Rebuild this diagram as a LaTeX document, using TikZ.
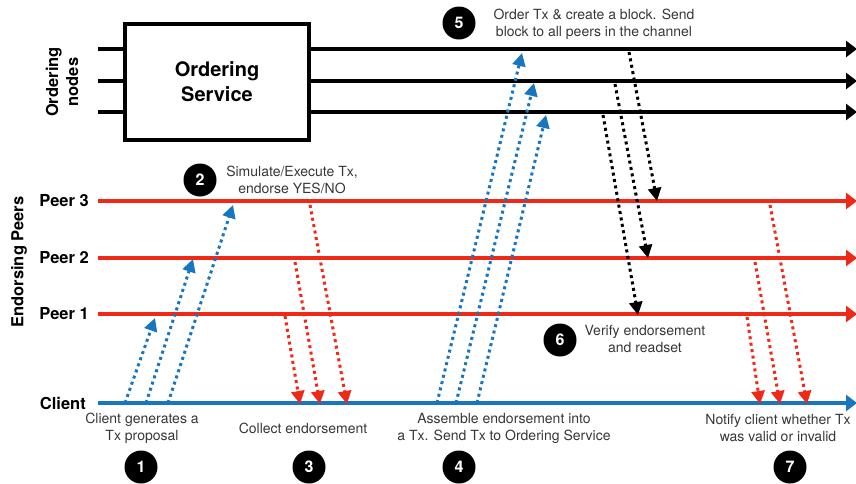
\documentclass[tikz,border=0pt]{standalone}
\usepackage{fontspec}
\setmainfont{TeX Gyre Heros}
\usetikzlibrary{arrows.meta}
\definecolor{cred}{RGB}{240,40,22}
\definecolor{cblue}{RGB}{24,118,190}
\definecolor{ctext}{RGB}{55,55,55}
\tikzset{
  mainline/.style={line width=3.2pt,-{Triangle[length=11pt,width=16pt]}},
  msg/.style={line width=3pt,dash pattern=on 3pt off 3.5pt,-{Triangle[length=13pt,width=13pt]}},
  num/.style={circle,fill=black,minimum size=33pt,inner sep=0pt,text=white,font=\fontsize{16}{16}\selectfont\bfseries},
  note/.style={align=center,text=ctext,font=\fontsize{14}{17}\selectfont,inner sep=0pt},
  lab/.style={font=\fontsize{16.5}{19}\selectfont\bfseries,inner sep=0pt},
}
\begin{document}
\begin{tikzpicture}[x=1pt,y=-1pt]
\useasboundingbox (0,0) rectangle (856,483);
% line endpoints
\foreach \n/\y in {o1/49,o2/81,o3/112,p3/201,p2/258,p1/314,cl/403}{
  \coordinate (\n L) at (98,\y);
  \coordinate (\n R) at (857,\y);
}
% ordering lines
\draw[mainline] (o1L) -- (o1R);
\draw[mainline] (o2L) -- (o2R);
\draw[mainline] (o3L) -- (o3R);
\node[draw,line width=3.2pt,fill=white,minimum width=184pt,minimum height=116pt,align=center,
      font=\fontsize{20}{25}\selectfont\bfseries] (os) at (217,82) {Ordering\\Service};
% peer lines
\draw[mainline,cred] (p3L) -- (p3R);
\draw[mainline,cred] (p2L) -- (p2R);
\draw[mainline,cred] (p1L) -- (p1R);
\draw[mainline,cblue] (clL) -- (clR);
% labels
\node[lab,rotate=90,align=center,font=\fontsize{16.5}{20}\selectfont\bfseries] (ordn) at (62,82) {Ordering\\nodes};
\node[lab,rotate=90] (endp) at (19,262) {Endorsing Peers};
\node[lab,anchor=east] (lp3) at (89,201) {Peer 3};
\node[lab,anchor=east] (lp2) at (89,258) {Peer 2};
\node[lab,anchor=east] (lp1) at (89,314) {Peer 1};
\node[lab,anchor=east] (lcl) at (86,403) {Client};
% step 1: client -> peers
\coordinate (a1s) at (125,403); \coordinate (a1e) at (155,318);
\coordinate (a2s) at (146,403); \coordinate (a2e) at (193,259);
\coordinate (a3s) at (168,403); \coordinate (a3e) at (233,205);
\draw[msg,cblue] (a1s) -- (a1e);
\draw[msg,cblue] (a2s) -- (a2e);
\draw[msg,cblue] (a3s) -- (a3e);
% step 3: peers -> client
\coordinate (b1s) at (285,316); \coordinate (b1e) at (300,404);
\coordinate (b2s) at (295,262); \coordinate (b2e) at (320,404);
\coordinate (b3s) at (310,205); \coordinate (b3e) at (347,404);
\draw[msg,cred] (b1s) -- (b1e);
\draw[msg,cred] (b2s) -- (b2e);
\draw[msg,cred] (b3s) -- (b3e);
% step 4: client -> ordering
\coordinate (c1s) at (437,403); \coordinate (c1e) at (522,53);
\coordinate (c2s) at (456,403); \coordinate (c2e) at (534,83);
\coordinate (c3s) at (477,403); \coordinate (c3e) at (546,115);
\draw[msg,cblue] (c1s) -- (c1e);
\draw[msg,cblue] (c2s) -- (c2e);
\draw[msg,cblue] (c3s) -- (c3e);
% step 5: ordering -> peers
\coordinate (d1s) at (629,52); \coordinate (d1e) at (657,201);
\coordinate (d2s) at (615,84); \coordinate (d2e) at (648,258);
\coordinate (d3s) at (603,115); \coordinate (d3e) at (638,315);
\draw[msg,black] (d1s) -- (d1e);
\draw[msg,black] (d2s) -- (d2e);
\draw[msg,black] (d3s) -- (d3e);
% step 7: peers -> client
\coordinate (e1s) at (747,317); \coordinate (e1e) at (760,404);
\coordinate (e2s) at (755,262); \coordinate (e2e) at (780,404);
\coordinate (e3s) at (770,205); \coordinate (e3e) at (807,404);
\draw[msg,cred] (e1s) -- (e1e);
\draw[msg,cred] (e2s) -- (e2e);
\draw[msg,cred] (e3s) -- (e3e);
% numbers
\node[num] (n2) at (200,180) {2};
\node[num] (n5) at (459,23) {5};
\node[num] (n6) at (560,340) {6};
\node[num] (n1) at (141,467) {1};
\node[num] (n3) at (309,467) {3};
\node[num] (n4) at (459,467) {4};
\node[num] (n7) at (790,467) {7};
% notes
\node[note] (t2) at (292,180) {Simulate/Execute Tx,\\endorse YES/NO};
\node[note] (t5) at (594,24) {Order Tx \& create a block. Send\\block to all peers in the channel};
\node[note] (t6) at (645,339) {Verify endorsement\\and readset};
\node[note] (t1) at (142,428) {Client generates a\\Tx proposal};
\node[note] (t3) at (303,428) {Collect endorsement};
\node[note] (t4) at (504,428) {Assemble endorsement into\\a Tx. Send Tx to Ordering Service};
\node[note] (t7) at (778,428) {Notify client whether Tx\\was valid or invalid};
\end{tikzpicture}
\end{document}
